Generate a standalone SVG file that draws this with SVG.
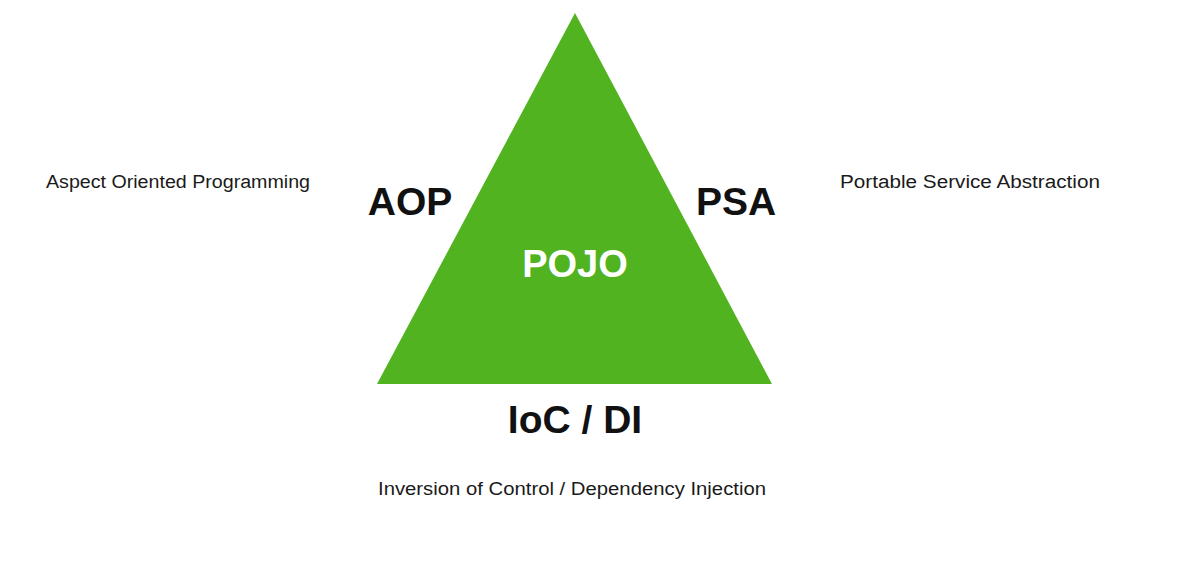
<svg xmlns="http://www.w3.org/2000/svg" width="1182" height="570" viewBox="0 0 1182 570">
<style>
.big{font-family:"Liberation Sans",Arial,sans-serif;font-weight:bold;font-size:39px;fill:#111;text-anchor:middle}
.small{font-family:"Liberation Sans",Arial,sans-serif;font-size:18px;fill:#1a1a1a}
</style>
<rect width="1182" height="570" fill="#ffffff"/>
<g id="triangle">
<polygon points="575,13 377,384 772,384" fill="#51b31f"/>
<text x="575" y="277" class="big" style="fill:#ffffff;font-size:38px">POJO</text>
</g>
<g id="aop">
<text x="410" y="215" class="big">AOP</text>
<text x="46" y="188" class="small" textLength="264" lengthAdjust="spacingAndGlyphs">Aspect Oriented Programming</text>
</g>
<g id="psa">
<text x="736" y="215" class="big">PSA</text>
<text x="840" y="188" class="small" textLength="260" lengthAdjust="spacingAndGlyphs">Portable Service Abstraction</text>
</g>
<g id="ioc">
<text x="575" y="433" class="big">IoC / DI</text>
<text x="378" y="495" class="small" textLength="388" lengthAdjust="spacingAndGlyphs">Inversion of Control / Dependency Injection</text>
</g>
<g id="connectors"></g>
</svg>
